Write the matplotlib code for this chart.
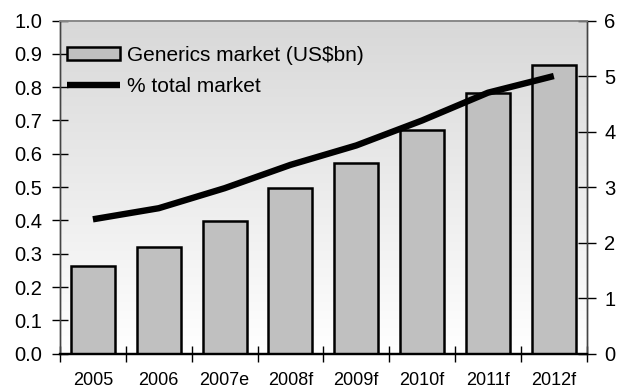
import numpy as np
import matplotlib
matplotlib.use("Agg")
from matplotlib import pyplot as plt
from matplotlib.patches import Patch
from matplotlib.lines import Line2D
from matplotlib.colors import LinearSegmentedColormap

years = ["2005", "2006", "2007e", "2008f", "2009f", "2010f", "2011f", "2012f"]
generics_bn = [0.264, 0.320, 0.397, 0.496, 0.573, 0.671, 0.781, 0.865]
pct_total = [2.42, 2.62, 2.98, 3.40, 3.75, 4.20, 4.70, 5.00]

plt.rcParams['font.family'] = ['Liberation Sans', 'DejaVu Sans']

fig = plt.figure(figsize=(6.21, 3.92), dpi=100)
ax = fig.add_axes([0.0966, 0.0977, 0.8482, 0.8500])
ax2 = ax.twinx()

# grey-to-white background fade inside the plot area
fade = LinearSegmentedColormap.from_list("fade", ["#ffffff", "#d8d8d8"])
grad = np.linspace(0, 1, 256).reshape(-1, 1)
ax.imshow(grad, cmap=fade, origin="lower", aspect="auto",
          extent=[0, 1, 0, 1], transform=ax.transAxes, zorder=0)

x = np.arange(len(years))
ax.bar(x, generics_bn, width=0.67, color="#c0c0c0", edgecolor="black",
       linewidth=1.8, zorder=2)
ax2.plot(x, pct_total, color="black", linewidth=4.6, solid_capstyle="butt",
         solid_joinstyle="round", zorder=3)

ax.set_xlim(-0.5, len(years) - 0.5)
ax.set_ylim(0, 1.0)
ax2.set_ylim(0, 6)

ax.set_yticks(np.arange(0, 1.01, 0.1))
ax.set_yticklabels(["%.1f" % v for v in np.arange(0, 1.01, 0.1)])
ax2.set_yticks(range(0, 7))

# ticks between categories, labels centred under bars
ax.set_xticks(np.arange(-0.5, len(years), 1.0))
ax.set_xticklabels([])
ax.set_xticks(x, minor=True)
ax.set_xticklabels(years, minor=True)
ax.tick_params(axis="x", which="major", direction="inout", length=12, width=1)
ax.tick_params(axis="x", which="minor", length=0, pad=13, labelsize=13)
ax.tick_params(axis="y", direction="inout", length=12, width=1, pad=7,
               labelsize=14.5)
ax2.tick_params(axis="y", direction="inout", length=13, width=1, pad=6,
                labelsize=14.5)

for a in (ax, ax2):
    a.spines["top"].set_color("#888888")
    a.spines["left"].set_color("#444444")
    a.spines["right"].set_color("#444444")
    a.spines["bottom"].set_color("black")
    a.spines["bottom"].set_linewidth(1.6)
    a.spines["top"].set_linewidth(1.2)
    a.spines["left"].set_linewidth(1.0)
    a.spines["right"].set_linewidth(1.0)

handles = [Patch(facecolor="#c0c0c0", edgecolor="black", linewidth=1.8),
           Line2D([], [], color="black", linewidth=4.6, solid_capstyle="butt")]
ax2.legend(handles, ["Generics market (US$bn)", "% total market"],
           loc="upper left", bbox_to_anchor=(0.013, 0.924), frameon=False,
           fontsize=15, handlelength=2.55, handleheight=0.62,
           handletextpad=0.33, labelspacing=0.6, borderpad=0,
           borderaxespad=0)

fig.savefig("out.png", dpi=100)
